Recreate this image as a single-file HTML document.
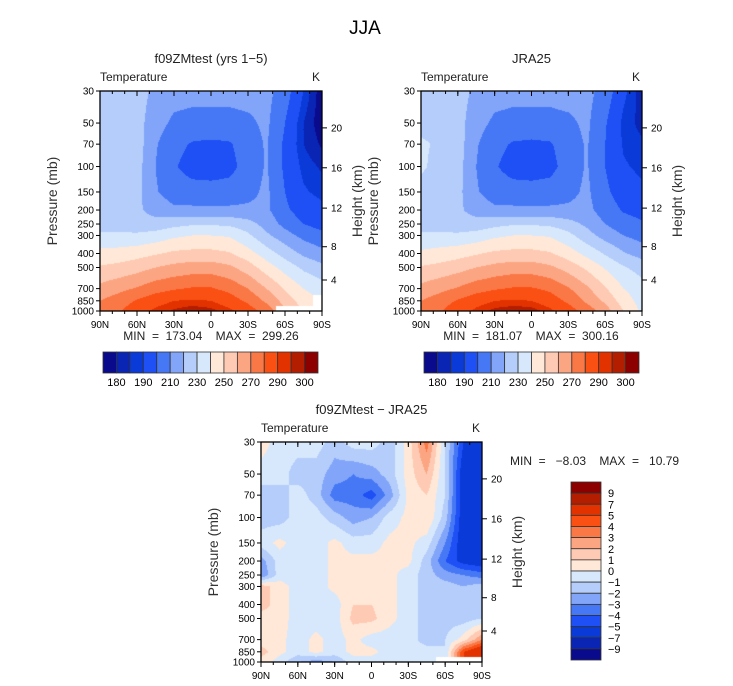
<!DOCTYPE html>
<html><head><meta charset="utf-8">
<style>
body{margin:0;background:#fff;}
#root{position:relative;width:733px;height:686px;overflow:hidden;background:#fff;font-family:"Liberation Sans",sans-serif;color:#000;}
.t{position:absolute;white-space:nowrap;}
canvas{position:absolute;}
svg{position:absolute;left:0;top:0;}
</style></head>
<body>
<div id="root">
<div class="t" style="left:340px;top:18px;font-size:19px;width:50px;text-align:center;">JJA</div>
<canvas id="c1" width="222" height="220" style="left:100px;top:91px"></canvas>
<canvas id="c2" width="221" height="220" style="left:421px;top:91px"></canvas>
<canvas id="c3" width="221" height="220" style="left:261px;top:442px"></canvas>
<svg id="ov" width="733" height="686"></svg>
</div>
<script>
// ---------- data ----------
const lats = [90,75,60,45,30,15,0,-15,-30,-45,-60,-75,-90];
const pressures = [30,50,70,100,150,200,250,300,400,500,700,850,1000];
const pTickLabels = [30,50,70,100,150,200,250,300,400,500,700,850,1000];
const latTickLabels = ["90N","60N","30N","0","30S","60S","90S"];
const latTickVals = [90,60,30,0,-30,-60,-90];
const heightTickLabels = [20,16,12,8,4];
const heightTickPressures = [54,102,194,359,610];
const tempLevels = [180,185,190,200,210,220,230,240,250,260,270,280,290,295,300];
const tempLabelIdx = [0,2,4,6,8,10,12,14];
const diffLevels = [-9,-7,-5,-4,-3,-2,-1,0,1,2,3,4,5,7,9];
const diffLabels = ["9","7","5","4","3","2","1","0","\u22121","\u22122","\u22123","\u22124","\u22125","\u22127","\u22129"];
const palette = ["#0a0a8c","#0a24b4","#0a3ad8","#1e50f5","#4678f5","#82a5fa","#b4cdfa","#d7e8fc","#ffe8d7","#ffcab4","#fca582","#fa7846","#fa5014","#e13200","#b41e00","#8c0000"];

const modelT = [
[226,226,224,218,214,213,213,213,214,213,205,190,176],
[228,228,224,214,208,207,207,207,208,212,200,185,176],
[229,229,225,211,203,199,198,199,205,211,198,185,179],
[229,228,224,210,201,196,195,197,204,211,198,188,184],
[227,226,223,211,205,204,204,204,207,212,200,191,188],
[225,224,222,216,212,212,212,212,212,212,202,195,192],
[226,225,224,224,227,229,229,228,224,216,207,200,196],
[232,232,232,234,238,240,240,239,232,222,214,207,203],
[243,244,246,249,252,253,253,251,244,235,226,218,213],
[251,253,256,260,263,265,265,262,255,245,236,228,223],
[263,267,271,276,279,281,281,277,270,260,249,240,235],
[270,275,281,286,290,291,290,285,278,268,256,245,240],
[273,279,286,292,296,299,297,292,285,276,262,250,245]];
const modelMissing = [[12,10],[12,11],[12,12],[11,12]];

const jraT = [
[226,226,224,218,214,213,213,213,214,213,206,192,182],
[228,228,224,214,208,207,207,207,208,212,201,188,183],
[231,229,225,211,203,199,198,199,205,211,200,189,186],
[231,228,224,210,201,196,195,197,204,211,200,191,188],
[228,226,223,211,205,204,204,204,207,212,202,195,192],
[228,224,222,216,212,212,212,212,212,213,205,199,197],
[226,225,224,224,227,229,229,228,224,218,210,204,201],
[232,232,232,234,238,240,240,239,233,224,216,210,206],
[242,244,246,249,252,253,253,251,245,237,229,221,216],
[251,253,256,260,263,265,265,262,256,248,239,231,226],
[263,267,271,276,279,281,281,278,271,262,251,240,234],
[270,275,281,286,290,291,290,285,278,268,258,245,236],
[273,279,286,292,297,299,298,292,285,276,265,250,238]];

const diffT = [
[0.5,-0.5,-0.5,-0.5,-1.5,-0.5,-0.5,-1.5,0.5,3.5,-1,-5,-6],
[-0.5,-0.5,-1.5,-1.5,-2.5,-3,-2.5,-1.5,0.5,2,-1,-6,-7],
[-1.5,-1.5,-0.5,-1.5,-3.5,-3.5,-4.5,-2.5,0.3,1,-1,-6,-7],
[-1.5,-1.5,-0.5,-0.5,-1.5,-2.5,-2,-0.5,0.3,1,-1.5,-6,-6],
[-0.5,0.3,-0.5,-0.5,0.3,-0.5,-0.5,0.3,0.3,-0.5,-3,-6,-6],
[-2.5,-0.5,-0.5,-0.5,0.3,0.3,0.3,0.3,0.3,-1.5,-4,-5.5,-6],
[-3,-0.5,-0.5,-0.5,0.3,0.3,0.5,0.3,-0.5,-1.5,-2.5,-3,-3.5],
[1.5,0.5,-0.5,-0.5,0.3,0.3,0.5,0.3,-0.5,-1.5,-1.5,-2,-1.5],
[1.5,0.5,-0.5,-0.5,-0.5,1,1,0.3,-0.5,-1.5,-1.5,-1.5,-1],
[0.5,0.5,-0.5,-0.5,-0.5,1.3,1.3,0.3,-0.5,-1.5,-1.5,-1.5,-1],
[0.3,0.3,-0.5,0.3,-0.5,0.3,-0.5,-0.5,-0.5,-1.5,-1,0.5,3],
[1.5,0.3,-0.5,0.3,-0.5,0.3,0.3,-0.5,-0.5,-0.5,-1,5,7],
[0.5,-0.5,-2,-2.5,-2,-0.5,-0.5,-0.5,-0.5,-0.5,-0.5,5,6]];
const diffMissing = [[12,10],[12,11],[12,12]];

// ---------- helpers ----------
const P0=30,P1=1000;
function yFrac(p){return Math.log(p/P0)/Math.log(P1/P0);}
function xFrac(lat){return (90-lat)/180;}
function colorFor(v,levels){let i=0;while(i<levels.length&&v>=levels[i])i++;return palette[i];}
function hex(c){return [parseInt(c.substr(1,2),16),parseInt(c.substr(3,2),16),parseInt(c.substr(5,2),16)];}
const gy = pressures.map(yFrac);
function drawField(id,grid,levels,missing){
  const cv=document.getElementById(id),ctx=cv.getContext('2d');
  const W=cv.width,H=cv.height,img=ctx.createImageData(W,H);
  const miss=new Set(missing.map(m=>m[0]+','+m[1]));
  const nc=lats.length-1;
  for(let py=0;py<H;py++){
    const fy=(py+0.5)/H;let r=0;while(r<gy.length-2&&fy>gy[r+1])r++;
    const ty=(fy-gy[r])/(gy[r+1]-gy[r]);
    for(let px=0;px<W;px++){
      const fx=(px+0.5)/W*nc;let c=Math.min(nc-1,Math.floor(fx));const tx=fx-c;
      const nr=ty<0.5?r:r+1,ncI=tx<0.5?c:c+1;
      let col;
      if(miss.has(nr+','+ncI)){col=[255,255,255];}
      else{
        const v=(grid[r][c]*(1-tx)+grid[r][c+1]*tx)*(1-ty)+(grid[r+1][c]*(1-tx)+grid[r+1][c+1]*tx)*ty;
        col=hex(colorFor(v,levels));
      }
      const k=(py*W+px)*4;img.data[k]=col[0];img.data[k+1]=col[1];img.data[k+2]=col[2];img.data[k+3]=255;
    }
  }
  ctx.putImageData(img,0,0);
}
drawField('c1',modelT,tempLevels,modelMissing);
drawField('c2',jraT,tempLevels,[]);
drawField('c3',diffT,diffLevels,diffMissing);

const NS='http://www.w3.org/2000/svg';
const ov=document.getElementById('ov');
function el(tag,attrs,txt){const e=document.createElementNS(NS,tag);for(const k in attrs)e.setAttribute(k,attrs[k]);if(txt!==undefined)e.textContent=txt;ov.appendChild(e);return e;}
const FF='Liberation Sans, sans-serif';

function drawAxes(x0,y0,w,h,title,name){
  let e;
  e=el('text',{x:x0+w/2,y:y0-28,'font-size':13,'text-anchor':'middle','font-family':FF,fill:'#222'},title);
  
  
  e=el('text',{x:x0,y:y0-10,'font-size':12,'font-family':FF,fill:'#222'},'Temperature');
  
  
  e=el('text',{x:x0+w-2,y:y0-10,'font-size':12,'text-anchor':'end','font-family':FF,fill:'#222'},'K');
  
  
  e=el('rect',{x:x0,y:y0,width:w,height:h,fill:'none',stroke:'#000','stroke-width':1.3});
  
  
  pTickLabels.forEach(p=>{
    const y=y0+yFrac(p)*h;
    el('line',{x1:x0-4,x2:x0,y1:y,y2:y,stroke:'#000'});
    const t=el('text',{x:x0-6,y:y+3.5,'font-size':10,'text-anchor':'end','font-family':FF},String(p));
    
    
  });
  latTickVals.forEach((lat,i)=>{
    const x=x0+xFrac(lat)*w;
    el('line',{x1:x,x2:x,y1:y0+h,y2:y0+h+5,stroke:'#000'});
    el('line',{x1:x,x2:x,y1:y0,y2:y0+5,stroke:'#000'});
    const t=el('text',{x:x,y:y0+h+17,'font-size':10,'text-anchor':'middle','font-family':FF},latTickLabels[i]);
    
    
  });
  for(let lat=80;lat>-90;lat-=10){
    const x=x0+xFrac(lat)*w;
    el('line',{x1:x,x2:x,y1:y0+h,y2:y0+h+3,stroke:'#000'});
    el('line',{x1:x,x2:x,y1:y0,y2:y0+3,stroke:'#000'});
  }
  heightTickLabels.forEach((z,i)=>{
    const y=y0+yFrac(heightTickPressures[i])*h;
    el('line',{x1:x0+w,x2:x0+w+5,y1:y,y2:y,stroke:'#000'});
    const t=el('text',{x:x0+w+9,y:y+3.5,'font-size':10,'font-family':FF},String(z));
    
    
  });
  e=el('text',{x:0,y:0,'font-size':14,'text-anchor':'middle','font-family':FF,fill:'#333',transform:`translate(${x0-43},${y0+h/2}) rotate(-90)`},'Pressure (mb)');
  
  
  e=el('text',{x:0,y:0,'font-size':14,'text-anchor':'middle','font-family':FF,fill:'#333',transform:`translate(${x0+w+40},${y0+h/2}) rotate(-90)`},'Height (km)');
  
  
}
drawAxes(100,91,222,220,'f09ZMtest (yrs 1\u22125)','model');
drawAxes(421,91,221,220,'JRA25','jra25');
drawAxes(261,442,221,220,'f09ZMtest \u2212 JRA25','difference');

function stat(x,y,txt,anchor,name){const t=el('text',{x:x,y:y,'font-size':12,'text-anchor':anchor,'font-family':FF,fill:'#222',style:'white-space:pre'},txt);}
stat(211,340,'MIN  =  173.04    MAX  =  299.26','middle','model-min-max');
stat(531,340,'MIN  =  181.07    MAX  =  300.16','middle','jra25-min-max');
stat(510,465,'MIN  =   \u22128.03    MAX  =   10.79','start','difference-min-max');

function hBar(x0,y0,w,h,name){
  const n=palette.length,bw=w/n;
  palette.forEach((c,i)=>{const r=el('rect',{x:x0+i*bw,y:y0,width:bw,height:h,fill:c,stroke:'#333','stroke-width':0.8});});
  tempLabelIdx.forEach(i=>{const t=el('text',{x:x0+(i+1)*bw,y:y0+h+13,'font-size':11,'text-anchor':'middle','font-family':FF},String(tempLevels[i]));});
}
hBar(103,352,215,21,'model-colorbar');
hBar(424,352,215,21,'jra25-colorbar');
(function(){
  const x0=571,y0=482,w=30,h=178,n=palette.length,bh=h/n;
  for(let i=0;i<n;i++){const r=el('rect',{x:x0,y:y0+i*bh,width:w,height:bh,fill:palette[n-1-i],stroke:'#333','stroke-width':0.8});}
  diffLabels.forEach((l,i)=>{const t=el('text',{x:x0+w+7,y:y0+(i+1)*bh+4,'font-size':11,'font-family':FF},l);});
})();
</script>
</body></html>
